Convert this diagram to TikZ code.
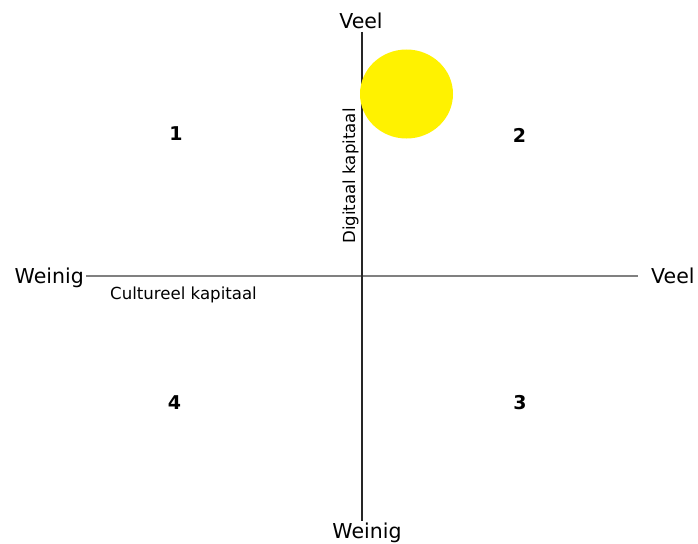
\documentclass[tikz,border=0pt]{standalone}
\usepackage{fontspec}
\setmainfont{DejaVu Sans}
\begin{document}
\begin{tikzpicture}[x=1pt,y=-1pt,
  big/.style={font=\fontsize{20.5}{24}\selectfont, inner sep=0pt, text=black},
  small/.style={font=\fontsize{16.6}{19}\selectfont, inner sep=0pt, text=black},
  num/.style={font=\fontsize{19}{22}\selectfont\bfseries, inner sep=0pt},
  vaxis/.style={draw=black!85, line width=1.5pt},
  haxis/.style={draw=black!50, line width=2pt}]
\useasboundingbox[fill=white] (0,0) rectangle (698,543);
% axes
\coordinate (vtop) at (362,32);
\coordinate (vbot) at (362,521);
\coordinate (hl) at (86,276);
\coordinate (hr) at (638,276);
\draw[haxis] (hl) -- (hr);
\draw[vaxis] (vtop) -- (vbot);
% sun
\fill[yellow] (406.5,94) ellipse [x radius=46.5, y radius=44.5];
% labels
\node[big, anchor=base] (veeltop) at (361,29) {Veel};
\node[big, anchor=base] (weinigbot) at (367,538) {Weinig};
\node[big, anchor=base east] (weinigleft) at (84,283) {Weinig};
\node[big, anchor=base west] (veelright) at (651,283) {Veel};
\node[small, anchor=base west] (cult) at (110,299) {Cultureel kapitaal};
\node[small, anchor=base, rotate=90] (digi) at (355,176) {Digitaal kapitaal};
% quadrant numbers
\node[num] (q1) at (176,134) {1};
\node[num] (q2) at (519.5,135) {2};
\node[num] (q3) at (520,402.5) {3};
\node[num] (q4) at (174.5,402.5) {4};
\end{tikzpicture}
\end{document}
